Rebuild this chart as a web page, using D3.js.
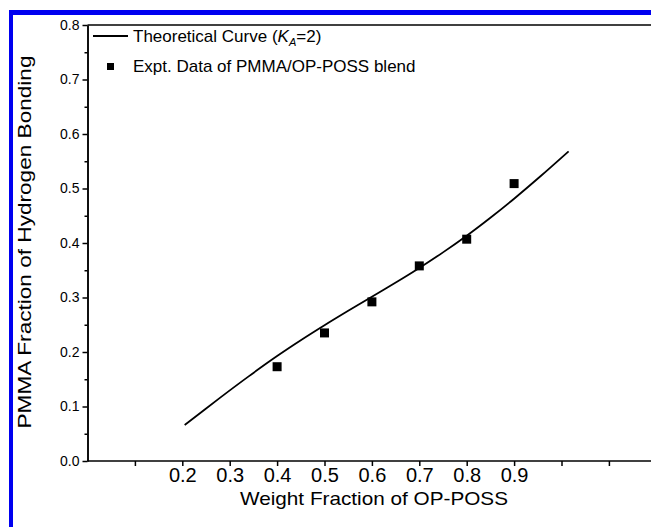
<!DOCTYPE html>
<html>
<head>
<meta charset="utf-8">
<script src="https://cdn.jsdelivr.net/npm/d3@7"></script>
<style>
  body { margin: 0; background: #fff; }
  svg { display: block; font-family: "Liberation Sans", Arial, sans-serif; }
  .axis path, .axis line { stroke: #000; stroke-width: 1.5; }
  .axis text { fill: #000; }
</style>
</head>
<body>
<svg width="651" height="527"></svg>
<script>
// data
const exptX = [0.4, 0.5, 0.6, 0.7, 0.8, 0.9];
const exptY = [0.173, 0.235, 0.292, 0.358, 0.407, 0.509];

const curveX = [0.205, 0.28, 0.34, 0.40, 0.45, 0.50, 0.55, 0.60, 0.66, 0.70, 0.75, 0.80, 0.85, 0.90, 0.955, 1.015];
const curveY = [0.066, 0.1163, 0.1553, 0.1925, 0.2215, 0.249, 0.2755, 0.3015, 0.3327, 0.3543, 0.3828, 0.4133, 0.4463, 0.4813, 0.522, 0.5682];

const xTicks = [0.1, 0.2, 0.3, 0.4, 0.5, 0.6, 0.7, 0.8, 0.9, 1.0, 1.1];
const xTickLabels = ["0.2", "0.3", "0.4", "0.5", "0.6", "0.7", "0.8", "0.9"];
const yTicks = [0.0, 0.1, 0.2, 0.3, 0.4, 0.5, 0.6, 0.7, 0.8];
const yMinor = [0.05, 0.15, 0.25, 0.35, 0.45, 0.55, 0.65, 0.75];

const svg = d3.select("svg");

// blue border (left + top)
svg.append("rect").attr("x", 9).attr("y", 10).attr("width", 4).attr("height", 517).attr("fill", "#0000f0");
svg.append("rect").attr("x", 9).attr("y", 10).attr("width", 642).attr("height", 5).attr("fill", "#0000f0");

const x = d3.scaleLinear().domain([0, 1.2]).range([87.5, 656.3]);
const y = d3.scaleLinear().domain([0, 0.8]).range([461, 25]);

// top frame
svg.append("line")
  .attr("x1", x(0)).attr("x2", 651)
  .attr("y1", y(0.8)).attr("y2", y(0.8))
  .attr("stroke", "#000").attr("stroke-width", 1.5);

// y axis
svg.append("g")
  .attr("class", "axis")
  .attr("transform", "translate(" + x(0) + ",0)")
  .call(d3.axisLeft(y).tickValues(yMinor).tickSize(3).tickSizeOuter(0).tickFormat(""));

svg.append("g")
  .attr("class", "axis")
  .attr("transform", "translate(" + x(0) + ",0)")
  .call(d3.axisLeft(y).tickValues(yTicks).tickSize(5).tickSizeOuter(0).tickPadding(3).tickFormat(d3.format(".1f")))
  .selectAll("text")
  .attr("font-size", 14);

// x axis
const xAxis = svg.append("g")
  .attr("class", "axis")
  .attr("transform", "translate(0," + y(0) + ")")
  .call(d3.axisBottom(x).tickValues(xTicks).tickSize(5).tickSizeOuter(0).tickPadding(0)
    .tickFormat(d => {
      const s = d3.format(".1f")(d);
      return xTickLabels.includes(s) ? s : "";
    }));
xAxis.select(".domain").attr("d", "M" + x(0) + ",0H651");
xAxis.selectAll("text")
  .attr("font-size", 20)
  .attr("y", 3)
  .attr("dy", "0.9em");

// axis titles
svg.append("text")
  .attr("x", 374)
  .attr("y", 505)
  .attr("text-anchor", "middle")
  .attr("font-size", 19)
  .attr("textLength", 268)
  .attr("lengthAdjust", "spacingAndGlyphs")
  .text("Weight Fraction of OP-POSS");

svg.append("text")
  .attr("transform", "translate(31,242) rotate(-90)")
  .attr("text-anchor", "middle")
  .attr("font-size", 19)
  .attr("textLength", 373)
  .attr("lengthAdjust", "spacingAndGlyphs")
  .text("PMMA Fraction of Hydrogen Bonding");

// theoretical curve
const line = d3.line()
  .x((d, i) => x(curveX[i]))
  .y(d => y(d))
  .curve(d3.curveCatmullRom.alpha(0.5));

svg.append("path")
  .datum(curveY)
  .attr("d", line)
  .attr("fill", "none")
  .attr("stroke", "#000")
  .attr("stroke-width", 1.8);

// experimental points
const sq = 9;
svg.selectAll(".pt")
  .data(exptY)
  .enter()
  .append("rect")
  .attr("class", "pt")
  .attr("x", (d, i) => x(exptX[i]) - sq / 2)
  .attr("y", d => y(d) - sq / 2)
  .attr("width", sq)
  .attr("height", sq)
  .attr("fill", "#000");

// legend
const legend = svg.append("g").attr("font-size", 17);

legend.append("line")
  .attr("x1", 93).attr("x2", 128)
  .attr("y1", 36).attr("y2", 36)
  .attr("stroke", "#000").attr("stroke-width", 1.8);

const t1 = legend.append("text").attr("x", 133).attr("y", 42);
t1.append("tspan").text("Theoretical Curve (");
t1.append("tspan").attr("font-style", "italic").text("K");
t1.append("tspan").attr("font-style", "italic").attr("font-size", 11).attr("dy", 4).text("A");
t1.append("tspan").attr("dy", -4).text("=2)");

legend.append("rect")
  .attr("x", 107).attr("y", 63)
  .attr("width", 7).attr("height", 7)
  .attr("fill", "#000");

legend.append("text")
  .attr("x", 133).attr("y", 72)
  .text("Expt. Data of PMMA/OP-POSS blend");
</script>
</body>
</html>
